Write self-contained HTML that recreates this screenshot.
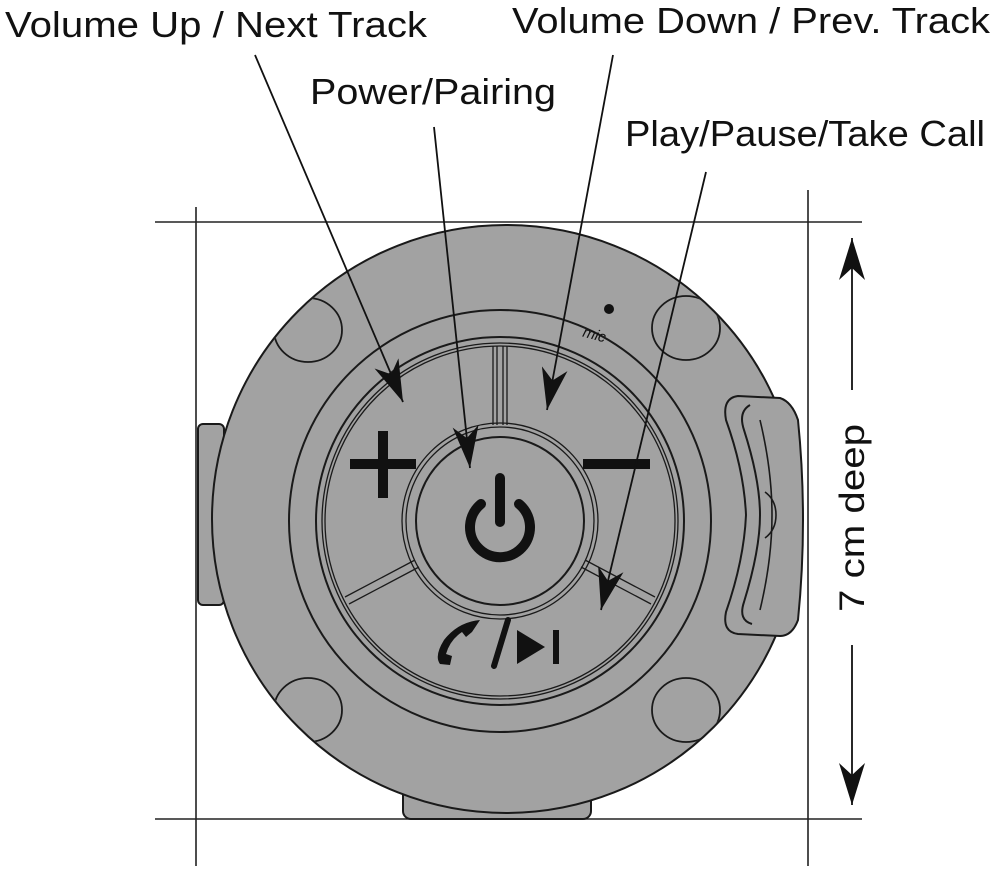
<!DOCTYPE html>
<html><head><meta charset="utf-8"><style>
html,body{margin:0;padding:0;background:#fff;}
svg{display:block;}
text{font-family:"Liberation Sans",sans-serif;fill:#111;}
</style></head><body>
<svg width="1000" height="872" viewBox="0 0 1000 872" xmlns="http://www.w3.org/2000/svg">
<defs>
<marker id="ah" markerWidth="44" markerHeight="26" refX="42" refY="13" orient="auto" markerUnits="userSpaceOnUse">
<path d="M42,13 L0,0 L12,13 L0,26 Z" fill="#111"/>
</marker>
<clipPath id="cc"><circle cx="506" cy="519" r="293"/></clipPath>
</defs>
<g stroke="#222" stroke-width="1.6">
<line x1="155" y1="222" x2="862" y2="222"/>
<line x1="155" y1="819" x2="862" y2="819"/>
<line x1="196" y1="207" x2="196" y2="866"/>
<line x1="808" y1="190" x2="808" y2="866"/>
</g>
<g stroke="#1a1a1a" stroke-width="2" fill="#a2a2a2">
<rect x="403" y="785" width="188" height="34" rx="8"/>
<rect x="198" y="424" width="26" height="181" rx="5"/>
<circle cx="506" cy="519" r="294"/>
<g clip-path="url(#cc)">
<ellipse cx="308" cy="330" rx="34" ry="32" fill="none" stroke-width="1.8"/>
<ellipse cx="686" cy="328" rx="34" ry="32" fill="none" stroke-width="1.8"/>
<ellipse cx="308" cy="710" rx="34" ry="32" fill="none" stroke-width="1.8"/>
<ellipse cx="686" cy="710" rx="34" ry="32" fill="none" stroke-width="1.8"/>
</g>
<circle cx="500" cy="521" r="211" fill="none"/>
<path d="M738,396 L780,398 Q792,402 798,420 Q808,520 798,620 Q792,636 780,636 L738,634 Q722,632 726,612 Q744,560 746,515 Q744,470 726,420 Q722,398 738,396 Z"/>
<path d="M750,405 Q738,412 744,430 Q760,480 760,515 Q760,550 744,602 Q738,620 752,624" fill="none"/>
<path d="M760,420 Q772,470 772,515 Q772,560 760,610" fill="none" stroke-width="1.6"/>
<path d="M765,492 Q776,500 776,515 Q776,530 765,538" fill="none" stroke-width="1.6"/>
<circle cx="500" cy="521" r="184" fill="none"/>
<circle cx="500" cy="521" r="178" fill="none" stroke-width="1.3"/>
<circle cx="500" cy="521" r="175" fill="none" stroke-width="1.3"/>
<circle cx="500" cy="521" r="98" fill="none" stroke-width="1.3"/>
<circle cx="500" cy="521" r="94" fill="none" stroke-width="1.3"/>
<circle cx="500" cy="521" r="84" fill="none" stroke-width="2"/>
<g fill="none" stroke-width="1.3">
<line x1="493" y1="346" x2="493" y2="425"/><line x1="497" y1="346" x2="497" y2="425"/>
<line x1="503" y1="346" x2="503" y2="425"/><line x1="507" y1="346" x2="507" y2="425"/>
<line x1="345" y1="597" x2="415" y2="560"/><line x1="349" y1="604" x2="419" y2="567"/>
<line x1="585" y1="560" x2="655" y2="597"/><line x1="581" y1="567" x2="651" y2="604"/>
</g>
</g>
<circle cx="609" cy="309" r="5" fill="#111"/>
<text x="583" y="340" font-size="15" font-style="italic" transform="rotate(15 596 334)">mic</text>
<g stroke="#111" stroke-width="10" fill="none" stroke-linecap="butt">
<line x1="350" y1="464" x2="416" y2="464"/><line x1="383" y1="431" x2="383" y2="498"/>
<line x1="583" y1="464" x2="650" y2="464"/>
<path d="M481,504 A30,30 0 1 0 519,504" stroke-linecap="round"/>
<line x1="500" y1="478" x2="500" y2="522" stroke-linecap="round"/>
<line x1="508" y1="620" x2="494" y2="666" stroke-width="6" stroke-linecap="round"/>
<line x1="556" y1="630" x2="556" y2="664" stroke-width="6"/>
</g>
<path d="M517,630 L545,647 L517,664 Z" fill="#111"/>
<path d="M480,620 Q458,622 444,640 Q434,656 440,664 L450,665 L452,656 L446,654 Q450,640 462,632 L466,637 L472,632 Z" fill="#111"/>
<g stroke="#111" stroke-width="1.8" marker-end="url(#ah)">
<line x1="255" y1="55" x2="403" y2="402"/>
<line x1="434" y1="127" x2="470" y2="468"/>
<line x1="613" y1="55" x2="547" y2="410"/>
<line x1="706" y1="172" x2="601" y2="610"/>
<line x1="852" y1="390" x2="852" y2="238"/>
<line x1="852" y1="645" x2="852" y2="805"/>
</g>
<text x="5" y="37" font-size="36" textLength="422" lengthAdjust="spacingAndGlyphs">Volume Up / Next Track</text>
<text x="512" y="33" font-size="36" textLength="478" lengthAdjust="spacingAndGlyphs">Volume Down / Prev. Track</text>
<text x="310" y="104" font-size="36" textLength="246" lengthAdjust="spacingAndGlyphs">Power/Pairing</text>
<text x="625" y="146" font-size="36" textLength="360" lengthAdjust="spacingAndGlyphs">Play/Pause/Take Call</text>
<text x="0" y="0" font-size="35" textLength="188" lengthAdjust="spacingAndGlyphs" transform="translate(864,612) rotate(-90)">7 cm deep</text>
</svg>
</body></html>
